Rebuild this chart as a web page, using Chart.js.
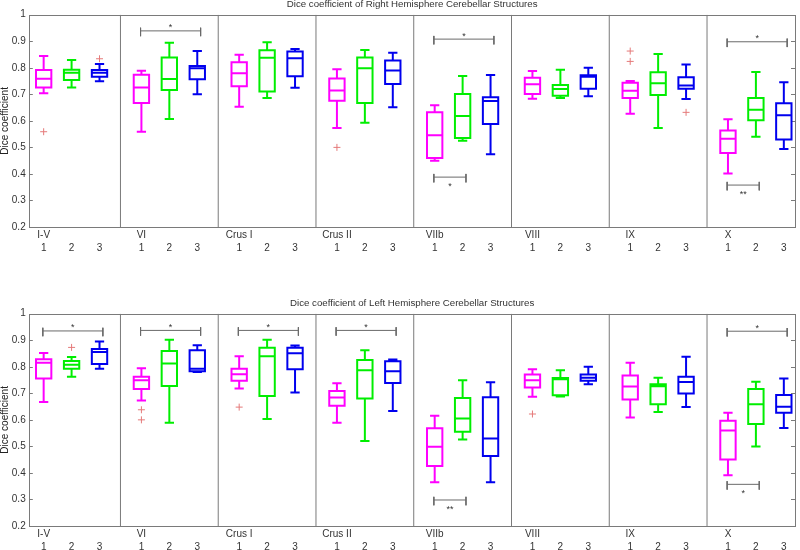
<!DOCTYPE html>
<html><head><meta charset="utf-8">
<script src="https://cdn.jsdelivr.net/npm/chart.js@4.4.0/dist/chart.umd.min.js"></script>
<style>
html,body{margin:0;padding:0;background:#fff;overflow:hidden;width:800px;height:550px}
.wrap{position:absolute;left:0;width:800px;height:275px}
</style></head><body>
<div class="wrap" style="top:0px"><canvas id="c1" width="800" height="275"></canvas></div>
<div class="wrap" style="top:298.5px"><canvas id="c2" width="800" height="275"></canvas></div>
<script>
// ---------------- DATA ----------------
const regions = ['I-V','VI','Crus I','Crus II','VIIb','VIII','IX','X'];
const methods = ['1','2','3'];
const yTickValues = [0.2,0.3,0.4,0.5,0.6,0.7,0.8,0.9,1];

// each entry: [lower whisker, Q1, median, Q3, upper whisker]
const rightM1 = [[0.704,0.726,0.759,0.792,0.844],[0.559,0.667,0.726,0.774,0.789],[0.653,0.730,0.779,0.821,0.849],[0.573,0.676,0.714,0.760,0.794],[0.450,0.460,0.546,0.632,0.659],[0.683,0.701,0.738,0.762,0.788],[0.627,0.686,0.713,0.744,0.750],[0.402,0.479,0.533,0.564,0.606]];
const rightM2 = [[0.726,0.754,0.781,0.793,0.829],[0.607,0.716,0.758,0.839,0.894],[0.686,0.711,0.838,0.866,0.896],[0.593,0.667,0.798,0.839,0.867],[0.525,0.535,0.618,0.701,0.769],[0.686,0.695,0.720,0.735,0.793],[0.573,0.697,0.742,0.783,0.852],[0.540,0.602,0.642,0.686,0.784]];
const rightM3 = [[0.749,0.766,0.781,0.792,0.814],[0.700,0.757,0.798,0.807,0.863],[0.725,0.768,0.836,0.861,0.871],[0.651,0.739,0.790,0.827,0.857],[0.474,0.588,0.675,0.689,0.773],[0.693,0.721,0.766,0.772,0.800],[0.682,0.721,0.733,0.764,0.812],[0.494,0.530,0.621,0.666,0.745]];
// [region, method, value]
const rightOutliers = [[0,0,0.559],[0,2,0.834],[3,0,0.500],[6,0,0.863],[6,0,0.824],[6,2,0.632]];
// [region, from method, to method, level, label, side]
const rightSig = [[1,0,2,0.939,'*','above'],[4,0,2,0.908,'*','above'],[4,0,1,0.388,'*','below'],[7,0,2,0.898,'*','above'],[7,0,1,0.358,'**','below']];

const leftM1 = [[0.667,0.756,0.815,0.828,0.852],[0.673,0.716,0.749,0.762,0.794],[0.718,0.747,0.772,0.793,0.840],[0.589,0.653,0.684,0.709,0.738],[0.365,0.426,0.499,0.568,0.615],[0.687,0.722,0.749,0.771,0.791],[0.609,0.677,0.726,0.767,0.815],[0.391,0.451,0.560,0.597,0.627]];
const leftM2 = [[0.762,0.793,0.808,0.822,0.837],[0.589,0.728,0.812,0.859,0.902],[0.603,0.690,0.840,0.872,0.902],[0.520,0.680,0.787,0.826,0.862],[0.526,0.555,0.605,0.682,0.749],[0.688,0.693,0.753,0.758,0.787],[0.630,0.659,0.727,0.734,0.759],[0.500,0.584,0.659,0.716,0.744]];
const leftM3 = [[0.793,0.810,0.856,0.867,0.895],[0.780,0.783,0.793,0.862,0.881],[0.703,0.791,0.851,0.872,0.880],[0.633,0.739,0.783,0.821,0.827],[0.365,0.464,0.530,0.685,0.742],[0.734,0.747,0.759,0.771,0.800],[0.648,0.699,0.743,0.762,0.838],[0.569,0.627,0.649,0.694,0.756]];
const leftOutliers = [[0,1,0.873],[1,0,0.638],[1,0,0.600],[2,0,0.648],[5,0,0.622]];
const leftSig = [[0,0,2,0.935,'*','above'],[1,0,2,0.937,'*','above'],[2,0,2,0.937,'*','above'],[3,0,2,0.937,'*','above'],[4,0,1,0.298,'**','below'],[7,0,2,0.934,'*','above'],[7,0,1,0.357,'*','below']];

// ---------------- STYLE / LAYOUT ----------------
const colors = ['#ff00ff','#00ee00','#0000ee'];
const FONT = 'Liberation Sans, Arial, sans-serif';
const GROUP_STEP = 3.5;
const BOX_HALF = 0.275, CAP_HALF = 0.13;
const pos = (g,k) => g*GROUP_STEP + k;

function buildDatasets(series, outliers, sig){
  const ds = [];
  series.forEach((stats,k)=>{
    const pts = [];
    stats.forEach((s,g)=>{
      const [lo,q1,med,q3,hi] = s;
      const x = pos(g,k);
      pts.push({x:x-BOX_HALF,y:q1},{x:x+BOX_HALF,y:q1},{x:x+BOX_HALF,y:q3},{x:x-BOX_HALF,y:q3},{x:x-BOX_HALF,y:q1},{x:x,y:null});
      pts.push({x:x-BOX_HALF,y:med},{x:x+BOX_HALF,y:med},{x:x,y:null});
      pts.push({x:x,y:q3},{x:x,y:hi},{x:x,y:null},{x:x,y:q1},{x:x,y:lo},{x:x,y:null});
      pts.push({x:x-CAP_HALF,y:hi},{x:x+CAP_HALF,y:hi},{x:x,y:null},{x:x-CAP_HALF,y:lo},{x:x+CAP_HALF,y:lo},{x:x,y:null});
    });
    ds.push({type:'line',label:'Method '+methods[k],data:pts,borderColor:colors[k],borderWidth:2,
      pointRadius:0,pointHoverRadius:0,showLine:true,spanGaps:false,fill:false,tension:0,
      borderJoinStyle:'miter',borderCapStyle:'square'});
  });
  ds.push({type:'scatter',label:'Outliers',data:outliers.map(o=>({x:pos(o[0],o[1]),y:o[2]})),
    pointStyle:'cross',pointRadius:3.5,borderColor:'#e57a7a',backgroundColor:'#e57a7a',borderWidth:1,showLine:false});
  const sp = [];
  sig.forEach(s=>{
    const x1 = pos(s[0],s[1]) - 0.03, x2 = pos(s[0],s[2]) + 0.12, y = s[3];
    sp.push({x:x1,y:y+0.012},{x:x1,y:y-0.02},{x:x1,y:null},{x:x1,y:y},{x:x2,y:y},{x:x2,y:null},{x:x2,y:y+0.012},{x:x2,y:y-0.02},{x:x2,y:null});
  });
  ds.push({type:'line',label:'Significance',data:sp,borderColor:'#6a6a6a',borderWidth:1,pointRadius:0,showLine:true,spanGaps:false,fill:false,tension:0});
  const sep = [];
  for(let g=0; g<regions.length-1; g++){
    const s = (pos(g,methods.length-1) + pos(g+1,0))/2;
    sep.push({x:s,y:yTickValues[0]},{x:s,y:yTickValues[yTickValues.length-1]},{x:s,y:null});
  }
  ds.push({type:'line',label:'Separators',data:sep,borderColor:'#7a7a7a',borderWidth:1,pointRadius:0,showLine:true,spanGaps:false,fill:false,tension:0});
  return ds;
}

const decoPlugin = {
  id:'panelDeco',
  beforeDatasetsDraw(chart, args, opts){
    const {ctx, chartArea:a, scales:{y}} = chart;
    ctx.save();
    ctx.strokeStyle = '#7a7a7a'; ctx.lineWidth = 1;
    ctx.strokeRect(Math.round(a.left)+0.5, Math.round(a.top)+0.5, Math.round(a.right-a.left), Math.round(a.bottom-a.top));
    yTickValues.forEach(v=>{
      const py = Math.round(y.getPixelForValue(v))+0.5;
      ctx.beginPath();
      ctx.moveTo(a.left, py); ctx.lineTo(a.left+3.5, py);
      ctx.moveTo(a.right-4, py); ctx.lineTo(a.right, py);
      ctx.stroke();
    });
    ctx.restore();
  },
  afterDatasetsDraw(chart, args, opts){
    const {ctx, chartArea:a, scales:{x,y}} = chart;
    ctx.save();
    ctx.fillStyle = '#333';
    ctx.font = '9.7px ' + FONT;
    ctx.textAlign = 'center'; ctx.textBaseline = 'middle';
    ctx.fillText(opts.title, (a.left+a.right)/2, a.top - 10);
    ctx.font = '9px ' + FONT;
    ctx.textBaseline = 'alphabetic';
    (opts.sig||[]).forEach(s=>{
      const x1 = x.getPixelForValue(pos(s[0],s[1]) - 0.03), x2 = x.getPixelForValue(pos(s[0],s[2]) + 0.12);
      const py = y.getPixelForValue(s[3]);
      const cx = (x1+x2)/2;
      if(s[5]==='above') ctx.fillText(s[4], cx, py - 0.5);
      else ctx.fillText(s[4], cx, py + 12);
    });
    ctx.restore();
  }
};

function makePanel(id, title, series, outliers, sig){
  const n = methods.length;
  new Chart(document.getElementById(id), {
    type:'scatter',
    data:{datasets:buildDatasets(series, outliers, sig)},
    plugins:[decoPlugin],
    options:{
      responsive:false, animation:false, events:[],
      layout:{padding:{top:14.7,right:3,left:0,bottom:0}},
      plugins:{legend:{display:false}, tooltip:{enabled:false}, title:{display:false},
        panelDeco:{title:title, sig:sig}},
      scales:{
        x:{type:'linear', min:-0.514, max:26.9,
          grid:{display:false, drawTicks:false}, border:{display:false},
          afterBuildTicks:(sc)=>{ const t=[]; regions.forEach((r,g)=>methods.forEach((m,k)=>t.push({value:pos(g,k)}))); sc.ticks=t; },
          afterFit:(sc)=>{ sc.height = 48; },
          ticks:{autoSkip:false, maxRotation:0, minRotation:0, padding:1, color:'#333',
            font:{family:FONT, size:10, lineHeight:1.35},
            callback:(v,i)=> (i % n === 0) ? [regions[Math.floor(i/n)], methods[i%n]] : ['', methods[i%n]]}
        },
        y:{type:'linear', min:0.2, max:1,
          grid:{display:false, drawTicks:false}, border:{display:false},
          afterBuildTicks:(sc)=>{ sc.ticks = yTickValues.map(v=>({value:v})); },
          afterFit:(sc)=>{ sc.width = 29.3; },
          ticks:{padding:3.6, color:'#333', font:{family:FONT, size:10},
            callback:(v)=> String(parseFloat(v.toFixed(1)))},
          title:{display:true, text:'Dice coefficient', color:'#222', padding:0,
            font:{family:FONT, size:10, lineHeight:1}}
        }
      }
    }
  });
}

makePanel('c1','Dice coefficient of Right Hemisphere Cerebellar Structures',[rightM1,rightM2,rightM3],rightOutliers,rightSig);
makePanel('c2','Dice coefficient of Left Hemisphere Cerebellar Structures',[leftM1,leftM2,leftM3],leftOutliers,leftSig);
</script>
</body></html>
